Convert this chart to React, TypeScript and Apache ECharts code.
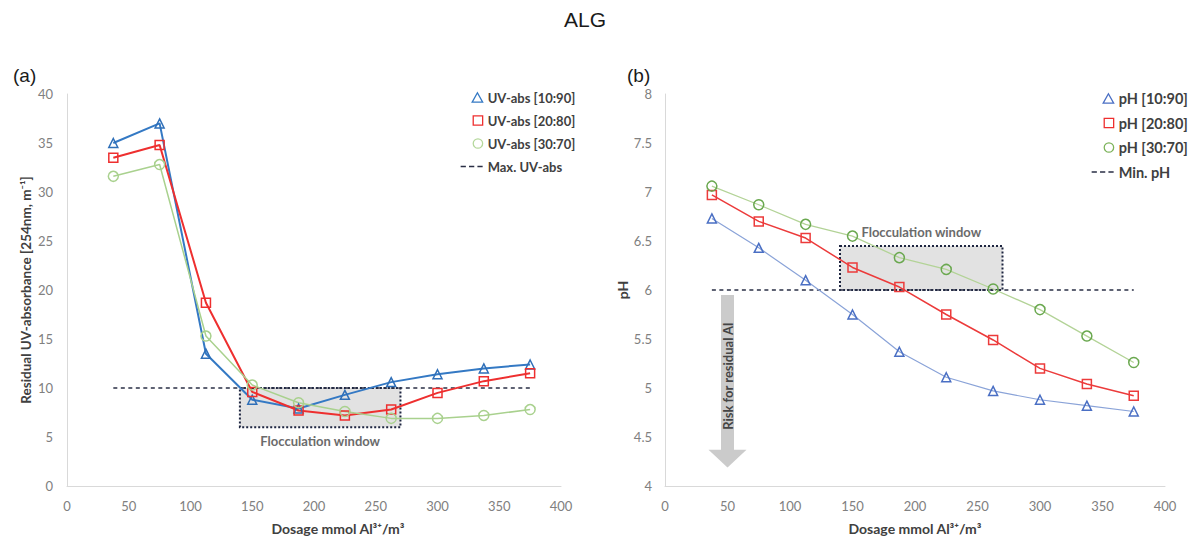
import React, { useEffect, useRef } from 'react';
import * as echarts from 'echarts';

const dosage = [37.5, 75, 112.5, 150, 187.5, 225, 262.5, 300, 337.5, 375];
const uv1090 = [35.0, 37.0, 13.5, 8.8, 7.9, 9.3, 10.6, 11.4, 12.0, 12.4];
const uv2080 = [33.5, 34.8, 18.7, 9.6, 7.7, 7.2, 7.8, 9.5, 10.7, 11.5];
const uv3070 = [31.6, 32.8, 15.3, 10.3, 8.5, 7.6, 6.9, 6.9, 7.2, 7.8];
const ph1090 = [6.73, 6.43, 6.1, 5.75, 5.37, 5.11, 4.97, 4.88, 4.82, 4.76];
const ph2080 = [6.97, 6.7, 6.53, 6.23, 6.03, 5.75, 5.49, 5.2, 5.04, 4.92];
const ph3070 = [7.06, 6.87, 6.67, 6.55, 6.33, 6.21, 6.01, 5.8, 5.53, 5.26];
const maxUV = 10;
const minPH = 6;
const thresholdX = [37.5, 375];
const windowX = [140, 270];
const windowUV = [6, 10];
const windowPH = [6, 6.45];
const riskArrow = [50, 5.95, 4.37, 4.19, 5.12]; // x, shaft top, head base, tip, text centre
const xTicks = { min: 0, max: 400, interval: 50 };
const uvTicks = { min: 0, max: 40, interval: 5 };
const phTicks = { min: 4, max: 8, interval: 0.5 };

const pairs = (ys: number[]) => dosage.map((d, i) => [d, ys[i]]);

const FONT = 'Lato';
const triIcon = 'path://M0,5M16,0.5L21,9.5L11,9.5Z';
const rectIcon = 'path://M0,5M12,1h9v9h-9z';
const circIcon = 'path://M0,5M21,5.5A4.5,4.5,0,1,1,12,5.5A4.5,4.5,0,1,1,21,5.5Z';
const dashIcon = 'path://M0,0h5v1.6h-5zM8,0h5v1.6h-5zM16,0h5v1.6h-5z';

const hollow = (c: string, w = 1.3) => ({ color: 'rgba(255,255,255,0)', borderColor: c, borderWidth: w });

export default function App() {
  const ref = useRef<HTMLDivElement>(null);
  useEffect(() => {
    if (!ref.current) return;
    const chart = echarts.init(ref.current, null, { renderer: 'svg' });
    const axisLine = { show: true, lineStyle: { color: '#d9d9d9', width: 1 } };
    const tickLabel = { color: '#808080', fontSize: 13, fontFamily: FONT };
    const nameStyle = { color: '#404040', fontSize: 14, fontWeight: 'bold', fontFamily: FONT };
    const xAxisBase = {
      type: 'value',
      ...xTicks,
      axisLine,
      axisTick: { show: false },
      splitLine: { show: false },
      axisLabel: { ...tickLabel, margin: 13 },
      name: 'Dosage mmol Al³⁺/m³',
      nameLocation: 'middle',
      nameGap: 35,
    };
    const lineSeries = (name: string, ys: number[], axis: number, symbol: string, size: number, lineColor: string, markColor: string, width: number) => ({
      name,
      type: 'line',
      xAxisIndex: axis,
      yAxisIndex: axis,
      data: pairs(ys),
      symbol,
      symbolSize: size,
      lineStyle: { color: lineColor, width },
      itemStyle: hollow(markColor, 1.5),
      z: 3,
    });
    const legendBase = {
      orient: 'vertical',
      itemWidth: 22,
      itemHeight: 10,
      padding: 0,
      selectedMode: false,
    };
    const option: any = {
      animation: false,
      textStyle: { fontFamily: FONT },
      title: [
        { text: 'ALG', left: 559, top: 4, textStyle: { fontSize: 21, fontWeight: 'normal', color: '#1a1a1a', fontFamily: 'Liberation Sans' } },
        { text: '(a)', left: 8, top: 61, textStyle: { fontSize: 19, fontWeight: 'normal', color: '#1a1a1a', fontFamily: 'Liberation Sans' } },
        { text: '(b)', left: 622, top: 61, textStyle: { fontSize: 19, fontWeight: 'normal', color: '#1a1a1a', fontFamily: 'Liberation Sans' } },
      ],
      grid: [
        { left: 67, top: 94, width: 494, height: 392 },
        { left: 665, top: 94, width: 500, height: 392 },
      ],
      xAxis: [
        { ...xAxisBase, gridIndex: 0, nameTextStyle: { ...nameStyle, padding: [0, 0, 0, 48] } },
        { ...xAxisBase, gridIndex: 1, nameTextStyle: nameStyle },
      ],
      yAxis: [
        {
          type: 'value', gridIndex: 0, ...uvTicks, axisLine, axisTick: { show: false }, splitLine: { show: false },
          axisLabel: { ...tickLabel, margin: 14 },
          name: 'Residual UV-absorbance [254nm, m⁻¹]', nameLocation: 'middle', nameGap: 34,
          nameTextStyle: { ...nameStyle, fontSize: 13.5 },
        },
        {
          type: 'value', gridIndex: 1, ...phTicks, axisLine, axisTick: { show: false }, splitLine: { show: false },
          axisLabel: { ...tickLabel, margin: 13 },
          name: 'pH', nameLocation: 'middle', nameGap: 24, nameTextStyle: nameStyle,
        },
      ],
      legend: [
        {
          ...legendBase, left: 460, top: 91, itemGap: 10,
          textStyle: { color: '#404040', fontSize: 13, fontWeight: 'bold', fontFamily: FONT },
          data: [
            { name: 'UV-abs [10:90]', icon: triIcon, itemStyle: hollow('#3479c4') },
            { name: 'UV-abs [20:80]', icon: rectIcon, itemStyle: hollow('#ee2f2f') },
            { name: 'UV-abs [30:70]', icon: circIcon, itemStyle: hollow('#b5d89c') },
            { name: 'Max. UV-abs', icon: dashIcon, itemStyle: { color: '#2a2f45', borderWidth: 0 } },
          ],
        },
        {
          ...legendBase, left: 1091, top: 91, itemGap: 9.5,
          textStyle: { color: '#404040', fontSize: 14.5, fontWeight: 'bold', fontFamily: FONT },
          data: [
            { name: 'pH [10:90]', icon: triIcon, itemStyle: hollow('#4a6fc4') },
            { name: 'pH [20:80]', icon: rectIcon, itemStyle: hollow('#ee2f2f') },
            { name: 'pH [30:70]', icon: circIcon, itemStyle: hollow('#7cb35a') },
            { name: 'Min. pH', icon: dashIcon, itemStyle: { color: '#2a2f45', borderWidth: 0 } },
          ],
        },
      ],
      series: [
        {
          name: 'Max. UV-abs', type: 'line', xAxisIndex: 0, yAxisIndex: 0,
          data: thresholdX.map((x) => [x, maxUV]), symbol: 'none',
          lineStyle: { color: '#2a2f45', width: 1.6, type: [4, 3.5] },
          itemStyle: { color: '#2a2f45' },
          z: 2,
          markArea: {
            silent: true,
            itemStyle: { color: '#e2e2e2', borderColor: '#1d2540', borderWidth: 2, borderType: 'dotted' },
            label: { show: true, position: 'bottom', distance: 6, color: '#6b6b6b', fontWeight: 'bold', fontSize: 13, fontFamily: FONT },
            data: [[{ name: 'Flocculation window', coord: [windowX[0], windowUV[1]] }, { coord: [windowX[1], windowUV[0]] }]],
          },
        },
        lineSeries('UV-abs [10:90]', uv1090, 0, 'triangle', 9, '#3479c4', '#2f6fb8', 2),
        lineSeries('UV-abs [20:80]', uv2080, 0, 'rect', 9, '#ee2f2f', '#ee2f2f', 2),
        lineSeries('UV-abs [30:70]', uv3070, 0, 'circle', 10, '#a9d18e', '#a9d18e', 1.5),
        {
          name: 'Min. pH', type: 'line', xAxisIndex: 1, yAxisIndex: 1,
          data: thresholdX.map((x) => [x, minPH]), symbol: 'none',
          lineStyle: { color: '#2a2f45', width: 1.6, type: [4, 3.5] },
          itemStyle: { color: '#2a2f45' },
          z: 2,
          markArea: {
            silent: true,
            itemStyle: { color: '#e2e2e2', borderColor: '#1d2540', borderWidth: 2, borderType: 'dotted' },
            label: { show: true, position: 'top', distance: 6, color: '#6b6b6b', fontWeight: 'bold', fontSize: 13, fontFamily: FONT },
            data: [[{ name: 'Flocculation window', coord: [windowX[0], windowPH[1]] }, { coord: [windowX[1], windowPH[0]] }]],
          },
        },
        {
          name: 'risk', type: 'custom', xAxisIndex: 1, yAxisIndex: 1, silent: true, z: 1,
          data: [riskArrow],
          renderItem: (params: any, api: any) => {
            const top = api.coord([api.value(0), api.value(1)]);
            const base = api.coord([api.value(0), api.value(2)]);
            const tip = api.coord([api.value(0), api.value(3)]);
            const mid = api.coord([api.value(0), api.value(4)]);
            const x = top[0];
            const sw = 6.5;
            const hw = 19;
            return {
              type: 'group',
              children: [
                {
                  type: 'polygon',
                  shape: { points: [[x - sw, top[1]], [x + sw, top[1]], [x + sw, base[1]], [x + hw, base[1]], [x, tip[1]], [x - hw, base[1]], [x - sw, base[1]]] },
                  style: { fill: '#cbcbcb' },
                },
                {
                  type: 'text', x, y: mid[1], rotation: Math.PI / 2,
                  style: { text: 'Risk for residual Al', fill: '#454545', fontSize: 13, fontWeight: 'bold', fontFamily: FONT, align: 'center', verticalAlign: 'middle' },
                },
              ],
            };
          },
        },
        lineSeries('pH [10:90]', ph1090, 1, 'triangle', 9, '#8aa3d8', '#4a6fc4', 1.2),
        lineSeries('pH [20:80]', ph2080, 1, 'rect', 9, '#ec3b3b', '#ec3b3b', 1.5),
        lineSeries('pH [30:70]', ph3070, 1, 'circle', 10, '#b3d397', '#6aa84f', 1.3),
      ],
    };
    chart.setOption(option);
    return () => chart.dispose();
  }, []);
  return <div ref={ref} style={{ position: 'fixed', left: 0, top: 0, width: 1193, height: 545, background: '#fff' }} />;
}
